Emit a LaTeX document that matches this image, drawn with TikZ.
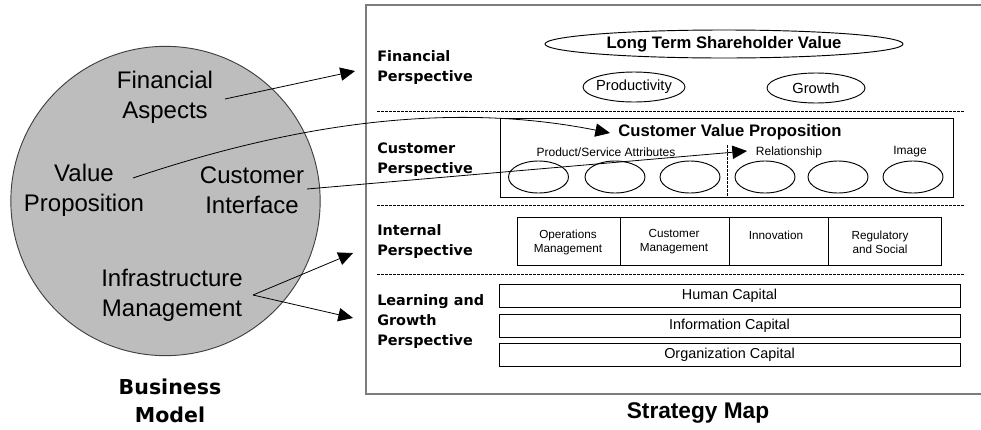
\documentclass[tikz,border=0pt]{standalone}
\usepackage{fontspec}
\setmainfont{Liberation Sans}
\newfontfamily\widefont{DejaVu Sans}
\usepackage{tikz}
\usetikzlibrary{shapes.geometric,arrows.meta}
\definecolor{discfill}{RGB}{189,189,189}
\definecolor{framecol}{RGB}{125,125,125}
\tikzset{plabel/.style={anchor=west,align=left,inner sep=0pt,font=\widefont\bfseries\fontsize{10.8}{15}\selectfont}}
\tikzset{btext/.style={align=center,inner sep=0pt,font=\fontsize{18}{22.5}\selectfont}}
\tikzset{oval/.style={draw,ellipse,inner sep=0pt,line width=0.7pt}}
\tikzset{cell/.style={align=center,inner sep=0pt,font=\fontsize{8.8}{10.5}\selectfont}}
\tikzset{small/.style={inner sep=0pt,font=\fontsize{9}{11}\selectfont}}
\tikzset{capbox/.style={draw,line width=0.75pt,minimum width=345.75pt,minimum height=17.25pt,inner sep=0pt,font=\fontsize{10.8}{13}\selectfont}}
\tikzset{sepline/.style={line width=0.5pt,dash pattern=on 2pt off 1pt}}
\tikzset{bmarrow/.style={-{Triangle[length=11pt,width=10pt]},line width=0.6pt}}

\begin{document}
\begin{tikzpicture}[x=0.75pt,y=-0.75pt]
  \useasboundingbox (0,0) rectangle (981,429);

  \draw[draw=black!75,fill=discfill,line width=0.7pt] (165.5,201) circle (116pt);
  \node[btext] (fa) at (165,97) {Financial\\Aspects};
  \node[btext] (vp) at (84,190) {Value\\Proposition};
  \node[btext] (ci) at (252,190) {Customer\\Interface};
  \node[btext] (im) at (172,295) {Infrastructure\\Management};
  \node[align=center,inner sep=0pt,font=\widefont\bfseries\fontsize{15.4}{21}\selectfont] (bm) at (170,401) {Business\\Model};

  \draw[framecol,line width=0.9pt] (981,5) -- (366,5) -- (366,394) -- (981,394);
  \foreach \y in {111,205,274}{
    \draw[sepline] (377,\y) -- (964,\y);
  }
  \node[font=\bfseries\fontsize{17}{20}\selectfont] (sm) at (698,413) {Strategy Map};

  \node[plabel] (fp) at (377,68) {Financial\\Perspective};
  \node[plabel] (cp) at (377,160) {Customer\\Perspective};
  \node[plabel] (ip) at (377,242) {Internal\\Perspective};
  \node[plabel] (lp) at (377,322) {Learning and\\Growth\\Perspective};

  \node[oval,minimum width=268.5pt,minimum height=21pt,font=\bfseries\fontsize{12.5}{15}\selectfont] (ltsv) at (724,44) {Long Term Shareholder Value};
  \node[oval,minimum width=76.5pt,minimum height=22.5pt,label={[font=\fontsize{11}{13}\selectfont]center:Productivity}] (prod) at (634,87) {};
  \node[oval,minimum width=73.5pt,minimum height=22.5pt,label={[font=\fontsize{11}{13}\selectfont]center:Growth}] (grow) at (816,88) {};

  \draw[line width=0.75pt] (500,118) rectangle (953,197);
  \node[font=\bfseries\fontsize{12.5}{15}\selectfont] (cvp) at (730,132) {Customer Value Proposition};
  \node[small] (psa) at (606,152) {Product/Service Attributes};
  \node[small] (rel) at (789,152) {Relationship};
  \node[small] (img) at (910,152) {Image};
  \draw[sepline] (727,145) -- (727,197);
  \foreach \x [count=\i] in {538.5,615,690,765,838,913}{
    \node[oval,minimum width=45pt,minimum height=24pt] (cv\i) at (\x,177) {};
  }

  \draw[line width=0.75pt] (517,217) rectangle (941,265);
  \foreach \x in {620,729,828}{
    \draw[line width=0.75pt] (\x,217) -- (\x,265);
  }
  \node[cell] (opm) at (568,242) {Operations\\Management};
  \node[cell] (cum) at (674,242) {Customer\\Management};
  \node[cell] (inn) at (776,235) {Innovation};
  \node[cell] (reg) at (880,242) {Regulatory\\and Social};

  \node[capbox] (hc) at (729.5,295.5) {Human Capital};
  \node[capbox] (ic) at (729.5,325.5) {Information Capital};
  \node[capbox] (oc) at (729.5,355) {Organization Capital};

  \coordinate (fa-out) at (225,99);
  \coordinate (fp-in) at (355,71);
  \coordinate (vp-out) at (133,178);
  \coordinate (cvp-in) at (610,133);
  \coordinate (ci-out) at (307,189);
  \coordinate (rel-in) at (747,151);
  \coordinate (im-out) at (253,295);
  \coordinate (ip-in) at (353,253);
  \coordinate (lp-in) at (353,318);
  \draw[bmarrow] (fa-out) -- (fp-in);
  \draw[bmarrow] (vp-out) .. controls (320,115) and (470,105) .. (cvp-in);
  \draw[bmarrow] (ci-out) -- (rel-in);
  \draw[bmarrow] (im-out) -- (ip-in);
  \draw[bmarrow] (im-out) -- (lp-in);
\end{tikzpicture}
\end{document}
